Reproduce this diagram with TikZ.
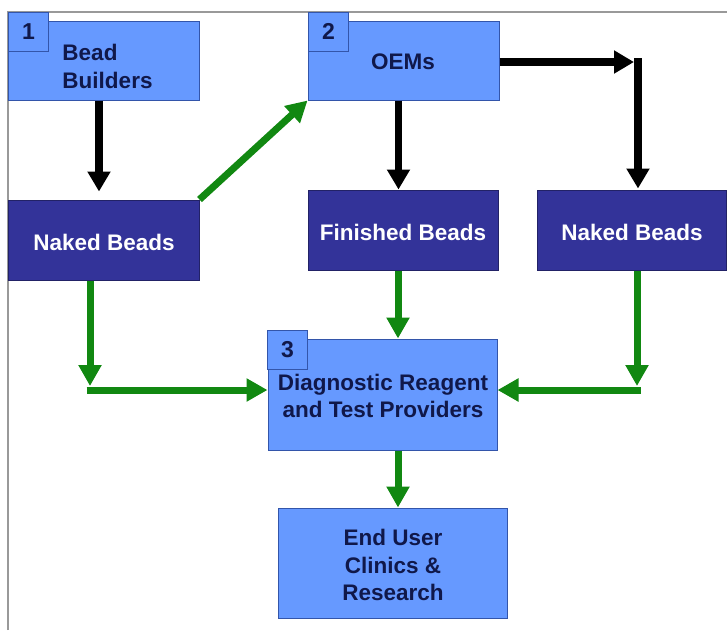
\documentclass[tikz,border=0pt]{standalone}
\usepackage{fontspec}
\setmainfont{Liberation Sans}
\usetikzlibrary{arrows.meta,calc}
\definecolor{lightbox}{HTML}{6699FF}
\definecolor{darkbox}{HTML}{333399}
\definecolor{lightedge}{HTML}{3355AA}
\definecolor{darkedge}{HTML}{222266}
\definecolor{navytext}{HTML}{10184A}
\definecolor{arrowgreen}{HTML}{118811}
\definecolor{framegray}{HTML}{999999}
\tikzset{
  lbox/.style={draw=lightedge, line width=1pt, fill=lightbox, rectangle, inner sep=0pt},
  dbox/.style={draw=darkedge, line width=1pt, fill=darkbox, rectangle, inner sep=0pt},
  numbox/.style={draw=lightedge, line width=1pt, fill=lightbox, rectangle, inner sep=0pt,
    minimum width=40pt, minimum height=39pt, text=navytext,
    font=\fontsize{23}{25}\selectfont\bfseries},
  ltext/.style={text=navytext, align=center, font=\fontsize{22.5}{28}\selectfont\bfseries},
  dtext/.style={text=white, align=center, font=\fontsize{22.5}{26}\selectfont\bfseries},
  blk/.style={draw=black, line width=7.5pt},
  blkarrow/.style={blk, -{Triangle[width=22pt,length=20pt]}},
  grn/.style={draw=arrowgreen, line width=7pt},
  grnarrow/.style={grn, -{Triangle[width=22pt,length=21pt]}},
}
\begin{document}
\begin{tikzpicture}[x=1pt,y=-1pt]
\useasboundingbox (0,0) rectangle (727,630);
\fill[white] (0,0) rectangle (727,630);
% frame
\draw[framegray, line width=1.5pt] (8,630) -- (8,12) -- (727,12);
% boxes
\node[lbox, minimum width=191pt, minimum height=79pt] (b1) at (103.5,60.5) {};
\node[dbox, minimum width=191pt, minimum height=80pt] (nb1) at (103.5,240) {};
\node[lbox, minimum width=191pt, minimum height=79pt] (oem) at (403.5,60.5) {};
\node[dbox, minimum width=190pt, minimum height=80pt] (fb) at (403,230) {};
\node[dbox, minimum width=189pt, minimum height=80pt] (nb2) at (631.5,230) {};
\node[lbox, minimum width=229pt, minimum height=111pt] (dx) at (382.5,394.5) {};
\node[lbox, minimum width=229pt, minimum height=110pt] (eu) at (392.5,563) {};
% number tabs
\node[numbox] (n1) at (28.5,31.5) {1};
\node[numbox] (n2) at (328.5,31.5) {2};
\node[numbox] (n3) at (287.5,350) {3};
% texts
\node[ltext, align=left] (t1) at (107.5,66) {Bead\\Builders};
\node[dtext] (t2) at (104,242) {Naked Beads};
\node[ltext] (t3) at (403,62) {OEMs};
\node[dtext] (t4) at (403,232) {Finished Beads};
\node[dtext] (t5) at (632,232) {Naked Beads};
\node[ltext, font=\fontsize{22.5}{27}\selectfont\bfseries] (t6) at (383,396) {Diagnostic Reagent\\and Test Providers};
\node[ltext, font=\fontsize{22.5}{27.5}\selectfont\bfseries] (t7) at (393,565) {End User\\Clinics \&\\Research};
% corner coordinates
\coordinate (cTop) at (638,62);
\coordinate (cL) at (90,390);
\coordinate (cR) at (637,390);
% black arrows
\draw[blkarrow, shorten >=8pt] ([xshift=-4.5pt]b1.south) -- ([xshift=-4.5pt]b1.south |- nb1.north);
\draw[blkarrow] ([xshift=-5pt]oem.south) -- ([xshift=-5pt]oem.south |- fb.north);
\draw[blkarrow, shorten >=4pt] (oem.east |- cTop) -- (cTop);
\draw[blkarrow, shorten >=1pt] ([yshift=3.75pt]cTop) -- (cTop |- nb2.north);
% green arrows
\draw[grnarrow] (nb1.north east) -- (oem.south west);
\draw[grnarrow] ([xshift=-5pt]fb.south) -- ([xshift=-5pt]fb.south |- dx.north);
\draw[grnarrow, shorten >=4pt] (cL |- nb1.south) -- (cL);
\draw[grnarrow] ([xshift=-3.5pt]cL) -- (cL -| dx.west);
\draw[grnarrow, shorten >=4pt] (cR |- nb2.south) -- (cR);
\draw[grnarrow] ([xshift=3.5pt]cR) -- (cR -| dx.east);
\draw[grnarrow] ([xshift=15.5pt]dx.south) -- ([xshift=15.5pt]dx.south |- eu.north);
\end{tikzpicture}
\end{document}
